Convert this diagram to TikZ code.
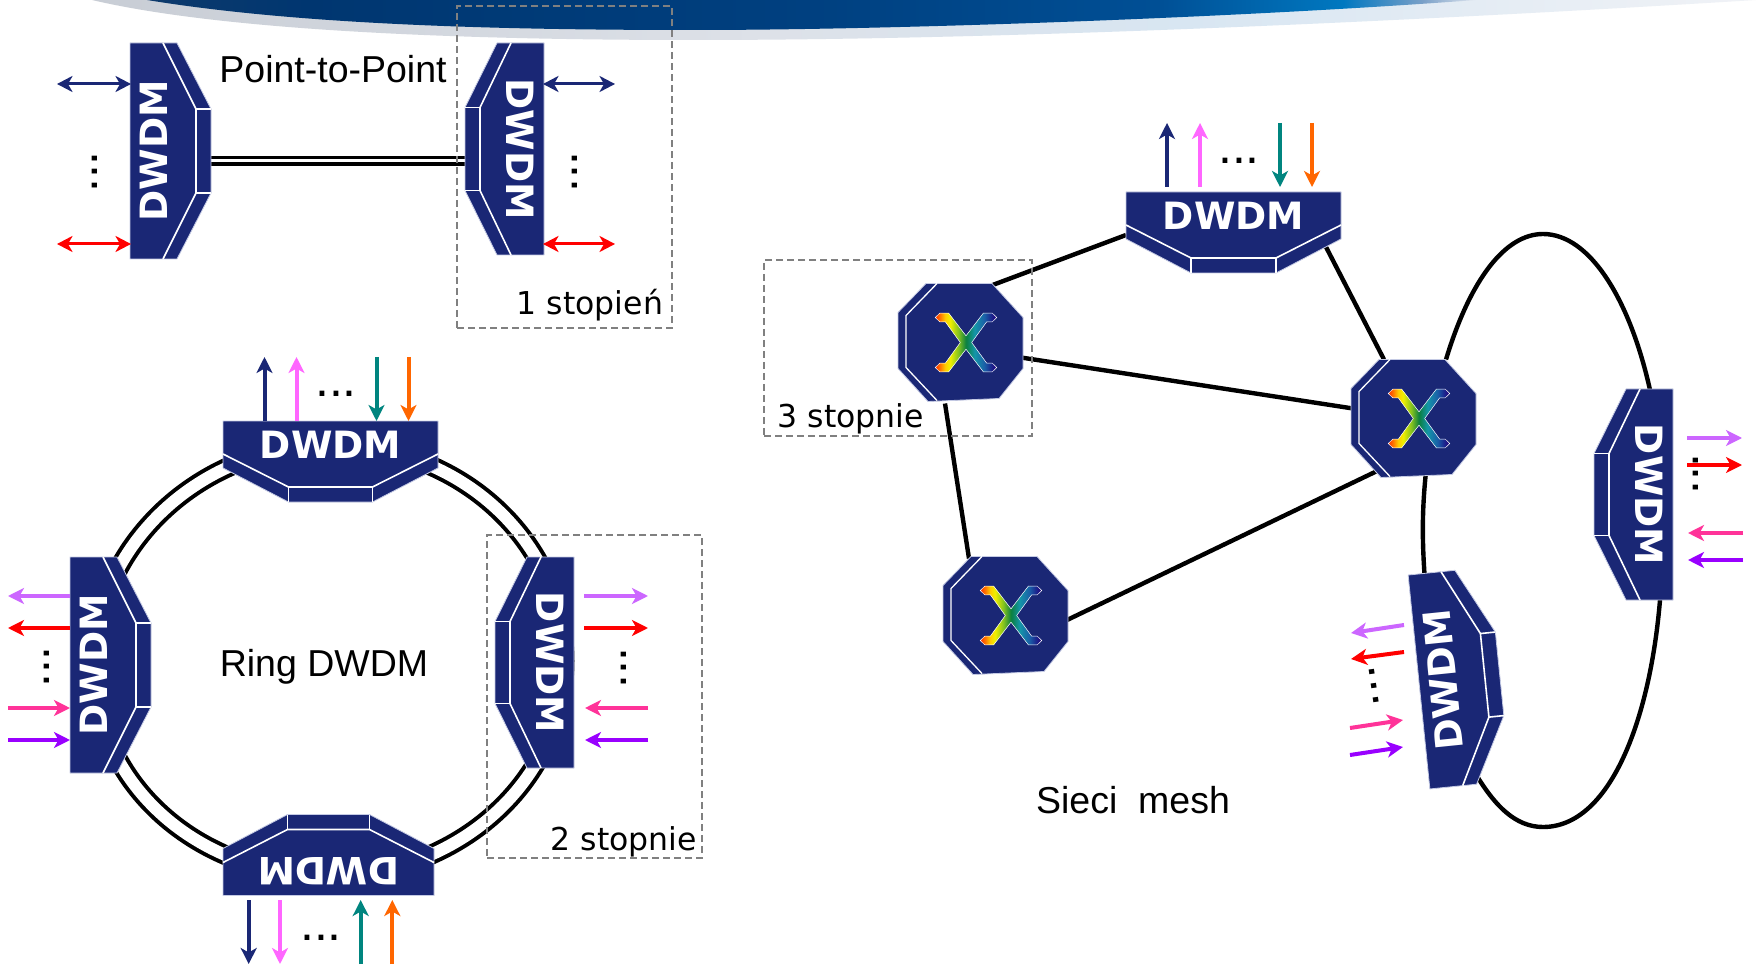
\documentclass[tikz,border=0pt]{standalone}
\usepackage{fontspec}
\setmainfont{Liberation Sans}
\newfontfamily\devfont{DejaVu Sans}[BoldFont={DejaVu Sans Bold}]
\newfontfamily\tahfont{DejaVu Sans}
\usetikzlibrary{arrows.meta,calc,backgrounds}
\definecolor{navy}{HTML}{1A2775}
\definecolor{edgec}{HTML}{C4CAE4}
\definecolor{pinkc}{HTML}{FF66FF}
\definecolor{tealc}{HTML}{00857F}
\definecolor{orangec}{HTML}{FF6600}
\definecolor{lilac}{HTML}{CC66FF}
\definecolor{redc}{HTML}{FF0000}
\definecolor{hotc}{HTML}{FF3399}
\definecolor{violc}{HTML}{9900FF}
\definecolor{dashc}{HTML}{808080}
\definecolor{rA}{HTML}{FF3300}
\definecolor{rB}{HTML}{FF7700}
\definecolor{rC}{HTML}{FFCC00}
\definecolor{rD}{HTML}{F0F000}
\definecolor{rE}{HTML}{80C020}
\definecolor{rF}{HTML}{0B7F3F}
\definecolor{rG}{HTML}{1496A8}
\definecolor{rH}{HTML}{1A60A8}
\definecolor{rI}{HTML}{1A2A90}
\definecolor{rJ}{HTML}{2A007A}
\definecolor{bA}{HTML}{0E3A6C}
\definecolor{bB}{HTML}{003670}
\definecolor{bC}{HTML}{004080}
\definecolor{bD}{HTML}{004F95}
\definecolor{bE}{HTML}{0078C0}
\definecolor{bF}{HTML}{7AA0C8}
\definecolor{bG}{HTML}{E0E6EF}
\definecolor{gA}{HTML}{C8CDD5}
\definecolor{gB}{HTML}{DDE1E8}
\definecolor{gC}{HTML}{D8E6F2}
\definecolor{gD}{HTML}{F0F2F6}
\pgfdeclarehorizontalshading{rainb}{100bp}{color(0bp)=(rA);color(25bp)=(rA);color(29bp)=(rB);color(33bp)=(rC);color(37bp)=(rD);color(44bp)=(rE);color(50bp)=(rF);color(57bp)=(rG);color(65bp)=(rH);color(70bp)=(rI);color(75bp)=(rJ);color(100bp)=(rJ)}
\pgfdeclarehorizontalshading{bannerd}{100bp}{color(0bp)=(bA);color(25bp)=(bA);color(31bp)=(bB);color(50bp)=(bC);color(63bp)=(bD);color(70bp)=(bE);color(73bp)=(bF);color(75bp)=(bG);color(100bp)=(bG)}
\pgfdeclarehorizontalshading{bannerl}{100bp}{color(0bp)=(gA);color(25bp)=(gA);color(45bp)=(gB);color(58bp)=(gC);color(75bp)=(gD);color(100bp)=(gD)}
\pgfdeclarelayer{under}
\pgfsetlayers{under,main}
\newcounter{sigc}
\tikzset{
  x=1pt,y=-1pt,
  devfill/.style={fill=navy,draw=edgec,line width=0.8pt,line join=round},
  devline/.style={draw=white,line width=1.6pt},
  devtext/.style={inner sep=0pt,text=white,font=\devfont\bfseries\fontsize{37.6}{37}\selectfont,text depth=0pt},
  link/.style={draw=black,line width=4.4pt},
  twin/.style={draw=black,line width=3.5pt,double=white,double distance=3pt},
  ringline/.style={draw=black,line width=4pt,double=white,double distance=12pt},
  sigline/.style={line width=4pt,-{Stealth[length=16pt,width=16pt,inset=4.5pt]}},
  sigboth/.style={line width=3pt,{Stealth[length=15.5pt,width=16pt,inset=4.5pt]}-{Stealth[length=15.5pt,width=16pt,inset=4.5pt]}},
  lab/.style={inner sep=0pt,anchor=base,font=\fontsize{37.5}{40}\selectfont},
  stlab/.style={inner sep=0pt,anchor=base,font=\tahfont\fontsize{31.5}{34}\selectfont},
  dashbox/.style={draw=dashc,line width=1.5pt,dash pattern=on 7pt off 4pt},
  elipsis/.style={inner sep=0pt,font=\fontsize{50}{50}\selectfont,text depth=0pt},
  xbox/.style={inner sep=0pt,minimum width=125pt,minimum height=118pt}
}
% [depth] name, x, y of flat-edge centre, rotation, half length, half bump
\newcommand{\dwdm}[7][81]{%
  \begin{scope}[shift={(#3,#4)},rotate=#5]
    \path[devfill] (-#6,0) -- (#6,0) -- (#6,47) -- (#7,#1) -- (-#7,#1) -- (-#6,47) -- cycle;
    \pgfmathsetmacro{\devin}{#1-15}
    \path[devline] (-#6,33) -- (-#7,\devin) -- (#7,\devin) -- (#6,33);
    \path[devline] (-#7,\devin) -- (-#7,#1);
    \path[devline] (#7,\devin) -- (#7,#1);
    \node[devtext,rotate=#5] (#2) at (0,24) {DWDM};
  \end{scope}}
\newcommand{\xnode}[3]{%
  \node[xbox] (#1) at (#2,#3) {};
  \begin{scope}[shift={(#2,#3)}]
    \path[devfill] (-68,-30) -- (-40,-59) -- (26,-59) -- (57,-25) -- (57,26) -- (33,56) -- (-38,59) -- (-68,26) -- cycle;
    \path[devline,line width=1.3pt] (-29,-59) -- (-60,-27) -- (-60,25) -- (-29,58);
    \path[shading=rainb,draw=white,line width=0.5pt] (-30.7,-25) -- (-26.3,-29.3) -- (-17.3,-29.3) -- (0,-6.7) -- (17.3,-29.3) -- (26.3,-29.3) -- (30.7,-25) -- (26.3,-20.7) -- (20.7,-20.7) -- (5.7,0) -- (20.7,20.7) -- (26.3,20.7) -- (30.7,25) -- (26.3,29.3) -- (17.3,29.3) -- (0,6.7) -- (-17.3,29.3) -- (-26.3,29.3) -- (-30.7,25) -- (-26.3,20.7) -- (-20.7,20.7) -- (-5.7,0) -- (-20.7,-20.7) -- (-26.3,-20.7) -- cycle;
  \end{scope}}
% style, colour, from, to
\newcommand{\sig}[6]{%
  \stepcounter{sigc}%
  \coordinate (s\thesigc a) at (#3,#4);
  \coordinate (s\thesigc b) at (#5,#6);
  \draw[#1,draw=#2,color=#2] (s\thesigc a) -- (s\thesigc b);}
\newcommand{\elip}[4]{\node[elipsis,rotate=#4] (#1) at (#2,#3) {...};}
\begin{document}
\begin{tikzpicture}
\useasboundingbox (0,0) rectangle (1756,965);
% banner
\begin{pgfonlayer}{under}
  \fill[white] (0,0) rectangle (1756,965);
  \path[shading=bannerl] (92,0) .. controls (220,30) and (450,40) .. (694,40) .. controls (1000,40) and (1400,22) .. (1756,0) -- cycle;
  \path[shading=bannerd] (147,0) .. controls (300,25) and (500,30) .. (694,30) .. controls (900,30) and (1250,17) .. (1476,0) -- cycle;
\end{pgfonlayer}
% point-to-point devices
\dwdm{ptL}{130}{151}{90}{108}{42}
\dwdm[79]{ptR}{544}{149}{-90}{106}{41.5}
% ring devices
\dwdm{rT}{330.5}{421}{0}{107.5}{42}
\dwdm{rB}{328.5}{895.5}{180}{105.5}{41}
\dwdm{rL}{70}{665}{90}{108}{42}
\dwdm[79]{rR}{574}{662.5}{-90}{105.5}{41}
% mesh devices
\dwdm{mT}{1233.5}{192}{0}{107.5}{42.5}
\dwdm[79]{mR}{1673}{494.5}{-90}{105.5}{41}
\dwdm{mL}{1419}{682}{95.8}{107.5}{42}
\xnode{xA}{966}{342.5}
\xnode{xB}{1419}{418.5}
\xnode{xC}{1011}{615.5}
\coordinate (loopT) at (1543,234);
\coordinate (loopB) at (1543,827);
% connectors
\begin{pgfonlayer}{under}
  \draw[twin] ($(ptL.center)+(0,10)$) -- ($(ptR.center)+(0,12)$);
  \draw[ringline] (rT.center) .. controls +(-130,0) and +(0,-119) .. (rL.center);
  \draw[ringline] (rT.center) .. controls +(130,0) and +(0,-119) .. ($(rR.center)+(14.5,-1.5)$);
  \draw[ringline] (rL.center) .. controls +(0,119) and +(-130,0) .. ($(rB.center)+(0,4.5)$);
  \draw[ringline] ($(rR.center)+(14.5,-1.5)$) .. controls +(0,119) and +(130,0) .. ($(rB.center)+(0,4.5)$);
  \draw[link] ($(xA)+(20,-55)$) -- ($(mT.center)+(-107.5,19)$);
  \draw[link] ($(mT.center)+(92.5,31)$) -- ($(xB)+(-35,-59)$);
  \draw[link] ($(xA)+(55,15)$) -- ($(xB)+(-66,-10)$);
  \draw[link] ($(xA)+(-21,61)$) -- ($(xC)+(-42,-57)$);
  \draw[link] ($(xC)+(55,5)$) -- ($(xB)+(-43,53)$);
  \draw[link] ($(xB)+(27,-59)$) .. controls (1470,280) and (1505,234) .. (loopT) .. controls (1590,234) and (1630,300) .. ($(mR.center)+(1,-104.5)$);
  \draw[link] ($(mR.center)+(11,105.5)$) .. controls (1650,720) and (1610,827) .. (loopB) .. controls (1515,827) and (1495,805) .. ($(mL.center)+(35,98)$);
  \draw[link] ($(xB)+(7,53)$) .. controls (1422,510) and (1422,540) .. ($(mL.center)+(-18,-100)$);
\end{pgfonlayer}
% signals: point-to-point
\sig{sigboth}{navy}{57}{84}{131}{84}
\sig{sigboth}{redc}{57}{244}{131}{244}
\sig{sigboth}{navy}{543}{84}{615}{84}
\sig{sigboth}{redc}{543}{244}{615}{244}
% ring top
\sig{sigline}{navy}{264.5}{421}{264.5}{357}
\sig{sigline}{pinkc}{296.5}{421}{296.5}{357}
\sig{sigline}{tealc}{376.5}{357}{376.5}{421}
\sig{sigline}{orangec}{408.5}{357}{408.5}{421}
% ring bottom
\sig{sigline}{navy}{248.7}{900}{248.7}{964}
\sig{sigline}{pinkc}{280}{900}{280}{964}
\sig{sigline}{tealc}{360.7}{964}{360.7}{900}
\sig{sigline}{orangec}{392.3}{964}{392.3}{900}
% ring left
\sig{sigline}{lilac}{70}{596}{8}{596}
\sig{sigline}{redc}{70}{628}{8}{628}
\sig{sigline}{hotc}{8}{708}{70}{708}
\sig{sigline}{violc}{8}{740}{70}{740}
% ring right
\sig{sigline}{lilac}{584}{596}{648}{596}
\sig{sigline}{redc}{584}{628}{648}{628}
\sig{sigline}{hotc}{648}{708}{585}{708}
\sig{sigline}{violc}{648}{740}{585}{740}
% mesh top
\sig{sigline}{navy}{1167}{187}{1167}{123}
\sig{sigline}{pinkc}{1200}{187}{1200}{123}
\sig{sigline}{tealc}{1280}{123}{1280}{187}
\sig{sigline}{orangec}{1312}{123}{1312}{187}
% mesh right
\sig{sigline}{lilac}{1687}{438}{1742}{438}
\sig{sigline}{redc}{1687}{465}{1742}{465}
\sig{sigline}{hotc}{1743}{533}{1688}{533}
\sig{sigline}{violc}{1743}{560}{1688}{560}
% mesh lower
\sig{sigline}{lilac}{1404}{625}{1351}{633}
\sig{sigline}{redc}{1404}{652}{1351}{659}
\sig{sigline}{hotc}{1350}{728}{1403}{720}
\sig{sigline}{violc}{1350}{755}{1403}{747}
% ellipses
\elip{dA}{95}{172}{90}
\elip{dB}{575}{172}{90}
\elip{dC}{336}{394}{0}
\elip{dD}{321}{938}{0}
\elip{dE}{47}{667}{90}
\elip{dF}{624}{668}{90}
\elip{dG}{1239}{161}{0}
\elip{dH}{1696}{474}{90}
\elip{dI}{1374}{686}{-82}
% labels
\node[lab] (tP) at (333,83) {Point-to-Point};
\node[lab] (tR) at (324,676) {Ring DWDM};
\node[lab] (tM) at (1133,813) {Sieci\ \ mesh};
\node[stlab] (t1) at (590,315) {1 stopień};
\node[stlab] (t2) at (624,850) {2 stopnie};
\node[stlab] (t3) at (851,427) {3 stopnie};
% dashed frames
\node[dashbox,inner sep=0pt,minimum width=215pt,minimum height=322pt] (bA) at (564.5,167) {};
\node[dashbox,inner sep=0pt,minimum width=215pt,minimum height=323pt] (bB) at (594.5,696.5) {};
\node[dashbox,inner sep=0pt,minimum width=268pt,minimum height=176pt] (bC) at (898,348) {};
\end{tikzpicture}
\end{document}
